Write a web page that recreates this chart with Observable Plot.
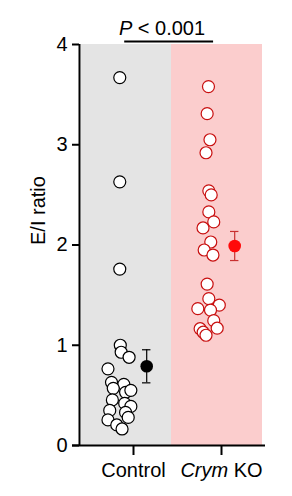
<!DOCTYPE html>
<html>
<head>
<meta charset="utf-8">
<script src="https://cdn.jsdelivr.net/npm/d3@7"></script>
<script src="https://cdn.jsdelivr.net/npm/@observablehq/plot@0.6"></script>
<style>
  html, body { margin: 0; padding: 0; background: #fff; }
  #chart { width: 292px; height: 496px; }
</style>
</head>
<body>
<div id="chart"></div>
<script>
// ---- data ----
const categories = ["Control", "Crym KO"];
const controlValues = [3.67, 2.63, 1.76, 1.00, 0.93, 0.88, 0.765, 0.63, 0.61, 0.57, 0.53, 0.55, 0.455, 0.42, 0.39, 0.35, 0.33, 0.28, 0.255, 0.205, 0.165];
const controlJitter = [-0.156, -0.156, -0.156, -0.15, -0.14, -0.05, -0.29, -0.25, -0.11, -0.23, -0.09, -0.03, -0.24, -0.10, -0.03, -0.27, -0.09, -0.06, -0.29, -0.19, -0.13];
const koValues = [3.58, 3.31, 3.05, 2.92, 2.54, 2.50, 2.33, 2.23, 2.17, 2.03, 1.95, 1.90, 1.61, 1.465, 1.40, 1.365, 1.35, 1.245, 1.17, 1.165, 1.13, 1.10];
const koJitter = [-0.148, -0.163, -0.131, -0.176, -0.144, -0.117, -0.144, -0.088, -0.210, -0.122, -0.197, -0.097, -0.163, -0.144, -0.025, -0.269, -0.125, -0.088, -0.049, -0.243, -0.208, -0.176];
const means = [0.79, 1.99];
const sems = [0.165, 0.145];
const yTicks = [0, 1, 2, 3, 4];
const yTickLabels = ["0", "1", "2", "3", "4"];
const pLabel = "P < 0.001";
const yLabel = "E/I ratio";

// ---- build tables ----
const points = [
  ...controlValues.map((v, i) => ({g: 0, x: 0 + controlJitter[i], y: v})),
  ...koValues.map((v, i) => ({g: 1, x: 1 + koJitter[i], y: v}))
];
const meanOffset = 0.15;
const capHalf = 0.048;
const summary = means.map((m, i) => ({g: i, x: i + meanOffset, m, lo: m - sems[i], hi: m + sems[i]}));
const caps = summary.flatMap(d => [{g: d.g, x1: d.x - capHalf, x2: d.x + capHalf, y: d.lo}, {g: d.g, x1: d.x - capHalf, x2: d.x + capHalf, y: d.hi}]);
const bands = [
  {x1: -0.59, x2: 0.432, fill: "#e4e4e4"},
  {x1: 0.432, x2: 1.466, fill: "#fbcdcd"}
];
const strokeCol = ["#000000", "#c80f0f"];
const meanCol = ["#000000", "#ff0a0a"];
const barCol = ["#000000", "#c83030"];

const xMin = -54 / 88, xMax = 132 / 88;

const chart = Plot.plot({
  width: 292,
  height: 496,
  marginLeft: 79,
  marginRight: 27,
  marginTop: 44,
  marginBottom: 51,
  style: {fontFamily: "'Liberation Sans', Arial, Helvetica, sans-serif", fontSize: "20px", color: "#000", background: "#fff"},
  x: {domain: [xMin, xMax]},
  y: {domain: [0, 4]},
  marks: [
    Plot.rect(bands, {x1: "x1", x2: "x2", y1: 0, y2: 4, fill: "fill"}),
    Plot.axisY({ticks: yTicks, tickFormat: (d, i) => yTickLabels[yTicks.indexOf(d)], tickSize: 7, tickPadding: 5, strokeWidth: 2, fontSize: 20, label: null}),
    Plot.axisX({ticks: [0, 1], tickFormat: d => categories[d], tickSize: 10, tickPadding: 7, strokeWidth: 2, fontSize: 20, label: null}),
    Plot.ruleX([xMin], {y1: 0, y2: 4, stroke: "#000", strokeWidth: 2}),
    Plot.ruleY([0], {x1: -61 / 88, x2: xMax, stroke: "#000", strokeWidth: 2}),
    Plot.dot(points, {x: "x", y: "y", r: 6, fill: "#fff", stroke: d => strokeCol[d.g], strokeWidth: 1.2}),
    Plot.ruleX(summary, {x: "x", y1: "lo", y2: "hi", stroke: d => barCol[d.g], strokeWidth: 1.2}),
    Plot.ruleY(caps, {x1: "x1", x2: "x2", y: "y", stroke: d => barCol[d.g], strokeWidth: 1.2}),
    Plot.dot(summary, {x: "x", y: "m", r: 6.3, fill: d => meanCol[d.g], stroke: "none"}),
    Plot.ruleY([4], {x1: -0.1, x2: 0.91, dy: -3, stroke: "#000", strokeWidth: 2}),
    Plot.text([pLabel], {x: 0.324, y: 4, dy: -16, fontSize: 20, textAnchor: "middle", fill: "#000"}),
    Plot.text([yLabel], {frameAnchor: "left", dx: -41, rotate: -90, fontSize: 20, fill: "#000"})
  ]
});

// italics for gene name and P
const NS = "http://www.w3.org/2000/svg";
chart.querySelectorAll("text").forEach(t => {
  const s = t.textContent;
  if (s === "Crym KO" || s === pLabel) {
    const [first, ...rest] = s.split(" ");
    t.textContent = "";
    const a = document.createElementNS(NS, "tspan");
    a.setAttribute("font-style", "italic");
    a.textContent = first;
    const b = document.createElementNS(NS, "tspan");
    b.textContent = " " + rest.join(" ");
    t.appendChild(a);
    t.appendChild(b);
  }
});
document.getElementById("chart").appendChild(chart);
</script>
</body>
</html>
